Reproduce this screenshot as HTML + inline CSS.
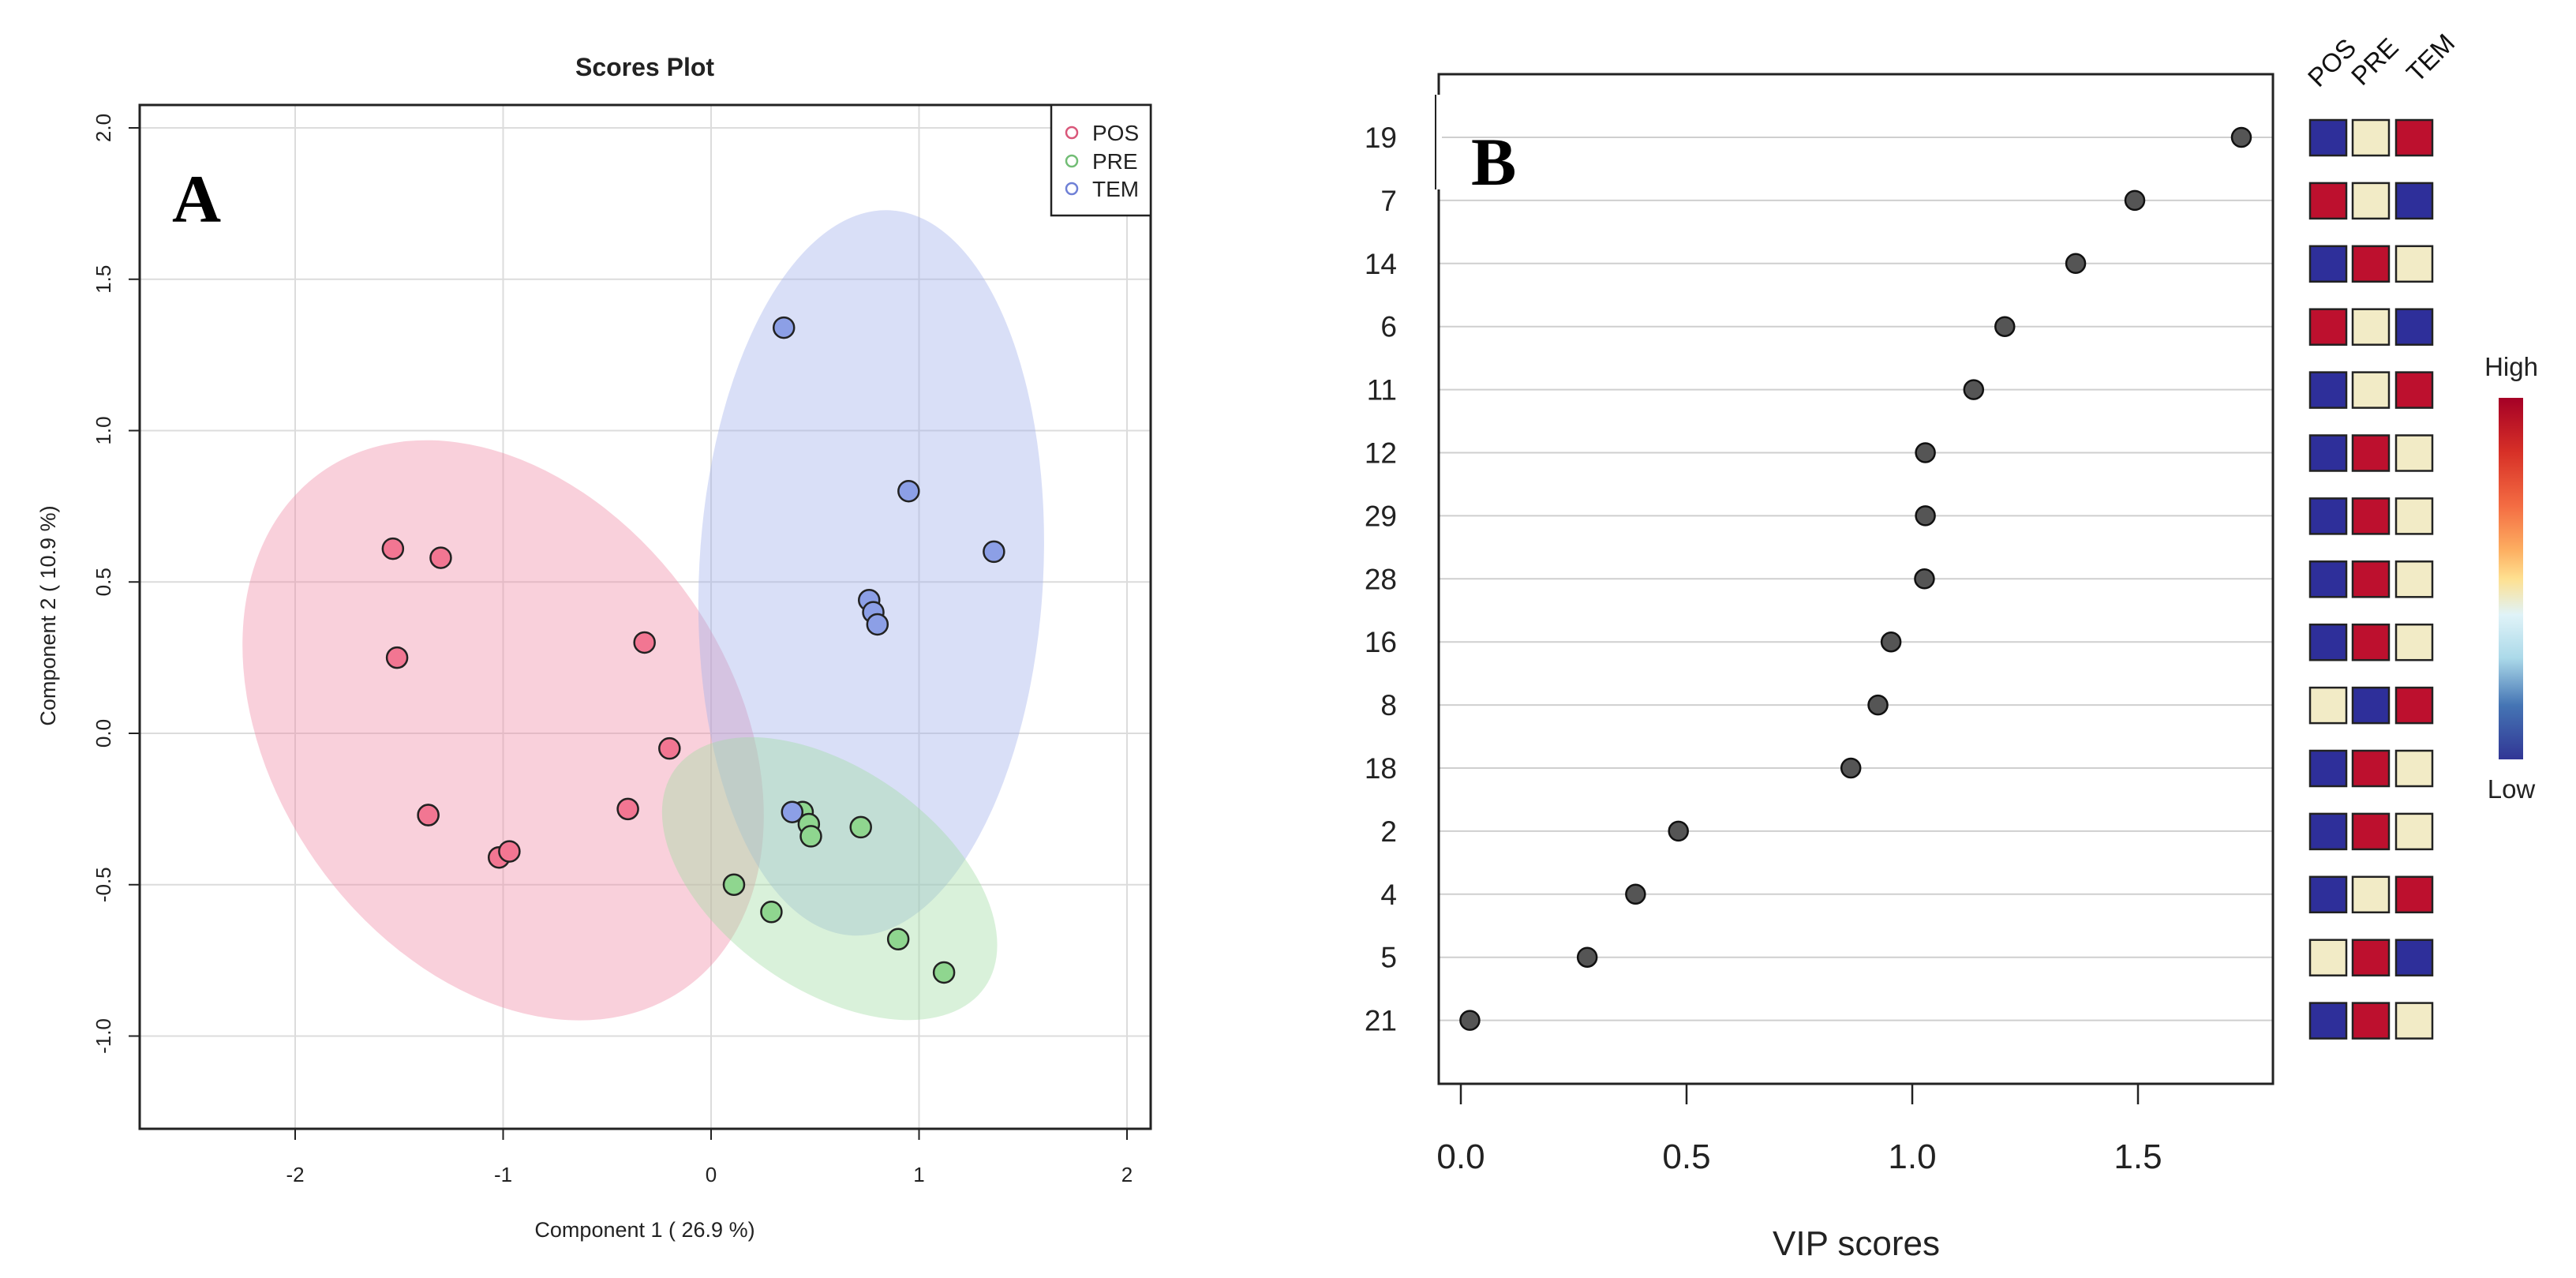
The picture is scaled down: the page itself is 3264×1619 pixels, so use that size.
<!DOCTYPE html>
<html><head><meta charset="utf-8"><style>
html,body{margin:0;padding:0;background:#fff;}
svg{display:block;font-family:"Liberation Sans",sans-serif;}
</style></head><body>
<svg id="fig" width="3264" height="1619" viewBox="0 0 3264 1619" xmlns="http://www.w3.org/2000/svg">
<g id="panelA"></g>
<g id="panelB"></g>
</svg>
<script>
// ---------- Panel A data ----------
const posX = [-1.53,-1.30,-1.51,-0.32,-0.20,-1.36,-1.36,-0.40,-1.02,-0.97];
const posY = [0.61,0.58,0.25,0.30,-0.05,-0.27,-0.27,-0.25,-0.41,-0.39];
const preX = [0.44,0.47,0.48,0.72,0.11,0.29,0.90,1.12];
const preY = [-0.26,-0.30,-0.34,-0.31,-0.50,-0.59,-0.68,-0.79];
const temX = [0.35,0.95,1.36,0.76,0.78,0.80,0.39];
const temY = [1.34,0.80,0.60,0.44,0.40,0.36,-0.26];
const xTicksA = [-2,-1,0,1,2];
const yTicksA = [-1.0,-0.5,0.0,0.5,1.0,1.5,2.0];
const yTickLabelsA = ["-1.0","-0.5","0.0","0.5","1.0","1.5","2.0"];
// ---------- Panel B data ----------
const features = ["19","7","14","6","11","12","29","28","16","8","18","2","4","5","21"];
const vipScores = [1.729,1.493,1.362,1.205,1.136,1.029,1.029,1.027,0.953,0.924,0.864,0.482,0.387,0.280,0.020];
const heatPOS = ["B","R","B","R","B","B","B","B","B","C","B","B","B","C","B"];
const heatPRE = ["C","C","R","C","C","R","R","R","R","B","R","R","C","R","R"];
const heatTEM = ["R","B","C","B","R","C","C","C","C","R","C","C","R","B","C"];
const xTicksB = [0.0,0.5,1.0,1.5];
const xTickLabelsB = ["0.0","0.5","1.0","1.5"];

const NS="http://www.w3.org/2000/svg";
function mk(parent,tag,attrs,text){const e=document.createElementNS(NS,tag);for(const k in attrs)e.setAttribute(k,attrs[k]);if(text!==undefined)e.textContent=text;parent.appendChild(e);return e;}

// ===== Panel A =====
const A=document.getElementById('panelA');
const axA={x:v=>901+v*263.5, y:v=>929-v*383.5};
const boxA={l:177,r:1458,t:133,b:1430};
for(const v of xTicksA){const l=mk(A,'line',{x1:axA.x(v),x2:axA.x(v),y1:boxA.t,y2:boxA.b,stroke:'#dcdcdc','stroke-width':2});

}
for(const v of yTicksA){const l=mk(A,'line',{x1:boxA.l,x2:boxA.r,y1:axA.y(v),y2:axA.y(v),stroke:'#dcdcdc','stroke-width':2});

}
// ellipses
const ellipses=[
 {name:'pos-ellipse',cx:-1.0,cy:0.01,rx:400,ry:290,rot:55,fill:'#f08aa6'},
 {name:'tem-ellipse',cx:0.77,cy:0.53,rx:218,ry:460,rot:3,fill:'#9fafec'},
 {name:'pre-ellipse',cx:0.57,cy:-0.48,rx:240,ry:140,rot:35,fill:'#9fdca3'}];
for(const e of ellipses){const px=axA.x(e.cx),py=axA.y(e.cy);
const el=mk(A,'ellipse',{cx:px,cy:py,rx:e.rx,ry:e.ry,transform:`rotate(${e.rot} ${px} ${py})`,fill:e.fill,'fill-opacity':0.4});

}
function pts(xs,ys,fill,name){for(let i=0;i<xs.length;i++){const c=mk(A,'circle',{cx:axA.x(xs[i]),cy:axA.y(ys[i]),r:13,fill:fill,stroke:'#222','stroke-width':2.5});

}}
pts(posX,posY,'#f27692','pos-point');
pts(preX,preY,'#8fd68f','pre-point');
pts(temX,temY,'#8c9fe6','tem-point');
// box
const bA=mk(A,'rect',{x:boxA.l,y:boxA.t,width:boxA.r-boxA.l,height:boxA.b-boxA.t,fill:'none',stroke:'#222','stroke-width':3});


// ticks
for(const v of xTicksA){mk(A,'line',{x1:axA.x(v),x2:axA.x(v),y1:boxA.b,y2:boxA.b+14,stroke:'#222','stroke-width':2});
const t=mk(A,'text',{x:axA.x(v),y:1497,'font-size':26,'text-anchor':'middle',fill:'#222'},String(v));

}
yTicksA.forEach((v,i)=>{mk(A,'line',{x1:boxA.l-14,x2:boxA.l,y1:axA.y(v),y2:axA.y(v),stroke:'#222','stroke-width':2});
const t=mk(A,'text',{x:140,y:axA.y(v),'font-size':26,'text-anchor':'middle',fill:'#222',transform:`rotate(-90 140 ${axA.y(v)})`},yTickLabelsA[i]);

});
// legend
const lg=mk(A,'g',{});


mk(lg,'rect',{x:1332,y:133,width:126,height:140,fill:'#fff',stroke:'#222','stroke-width':2.5});
[['POS','#d9577a',168],['PRE','#72bd75',204],['TEM','#6f80d6',239]].forEach(([n,c,y])=>{
mk(lg,'circle',{cx:1358,cy:y,r:7,fill:'none',stroke:c,'stroke-width':2.5});
const t=mk(lg,'text',{x:1384,y:y+10,'font-size':28,fill:'#222'},n);

});
// titles
let t=mk(A,'text',{x:817,y:96,'font-size':32,'font-weight':'bold','text-anchor':'middle',fill:'#222'},'Scores Plot');


t=mk(A,'text',{x:817,y:1567,'font-size':27,'text-anchor':'middle',fill:'#222'},'Component 1 ( 26.9 %)');


t=mk(A,'text',{x:70,y:780,'font-size':27,'text-anchor':'middle',fill:'#222',transform:'rotate(-90 70 780)'},'Component 2 ( 10.9 %)');


t=mk(A,'text',{x:218,y:281,'font-size':86,'font-weight':'bold','font-family':'Liberation Serif, serif',fill:'#000'},'A');



// ===== Panel B =====
const B=document.getElementById('panelB');
const boxB={l:1823,r:2880,t:94,b:1373};
const axB={x:v=>1851+v*572, y:i=>174+i*79.9};
features.forEach((f,i)=>{const y=axB.y(i);
const g=mk(B,'line',{x1:boxB.l,x2:boxB.r,y1:y,y2:y,stroke:'#cfcfcf','stroke-width':2});


const lb=mk(B,'text',{x:1770,y:y+13,'font-size':37,'text-anchor':'end',fill:'#222'},f);

});
const bB=mk(B,'rect',{x:boxB.l,y:boxB.t,width:boxB.r-boxB.l,height:boxB.b-boxB.t,fill:'none',stroke:'#222','stroke-width':3});


mk(B,'rect',{x:1815,y:120,width:12,height:120,fill:'#fff'});
mk(B,'line',{x1:1819,x2:1819,y1:120,y2:240,stroke:'#222','stroke-width':2});
vipScores.forEach((v,i)=>{const c=mk(B,'circle',{cx:axB.x(v),cy:axB.y(i),r:12,fill:'#555',stroke:'#111','stroke-width':2.5});

});
xTicksB.forEach((v,i)=>{mk(B,'line',{x1:axB.x(v),x2:axB.x(v),y1:boxB.b,y2:1399,stroke:'#222','stroke-width':2.5});
const tl=mk(B,'text',{x:axB.x(v),y:1480,'font-size':44,'text-anchor':'middle',fill:'#222'},xTickLabelsB[i]);

});
mk(B,'line',{x1:axB.x(0),x2:axB.x(1.5),y1:1373,y2:1373,stroke:'#222','stroke-width':3});
t=mk(B,'text',{x:2352,y:1590,'font-size':44,'text-anchor':'middle',fill:'#222'},'VIP scores');


t=mk(B,'text',{x:1864,y:234,'font-size':86,'font-weight':'bold','font-family':'Liberation Serif, serif',fill:'#000'},'B');


// heatmap
const colMap={B:'#2e2f9a',R:'#bd102e',C:'#f2ebc6'};
const cols=[heatPOS,heatPRE,heatTEM];const colX=[2927,2981,3036];
cols.forEach((col,j)=>col.forEach((v,i)=>{const r=mk(B,'rect',{x:colX[j],y:axB.y(i)-22,width:46,height:45,fill:colMap[v],stroke:'#222','stroke-width':2.5});

}));
[['POS',2938,112],['PRE',2993,110],['TEM',3063,106]].forEach(([n,x,y])=>{
const h=mk(B,'text',{x:x,y:y,'font-size':33,fill:'#111',transform:`rotate(-45 ${x} ${y})`},n);

});
// colorbar
const defs=mk(document.getElementById('fig'),'defs',{});
const gr=mk(defs,'linearGradient',{id:'cb',x1:0,y1:0,x2:0,y2:1});
[['0','#a50026'],['0.15','#d73027'],['0.3','#f46d43'],['0.42','#fdae61'],['0.5','#fee090'],['0.6','#e0f3f8'],['0.72','#abd9e9'],['0.85','#4575b4'],['1','#313695']].forEach(([o,c])=>mk(gr,'stop',{offset:o,'stop-color':c}));
const cb=mk(B,'rect',{x:3166,y:504,width:31,height:458,fill:'url(#cb)'});


t=mk(B,'text',{x:3182,y:476,'font-size':33,'text-anchor':'middle',fill:'#222'},'High');


t=mk(B,'text',{x:3182,y:1011,'font-size':33,'text-anchor':'middle',fill:'#222'},'Low');


</script>
</body></html>
